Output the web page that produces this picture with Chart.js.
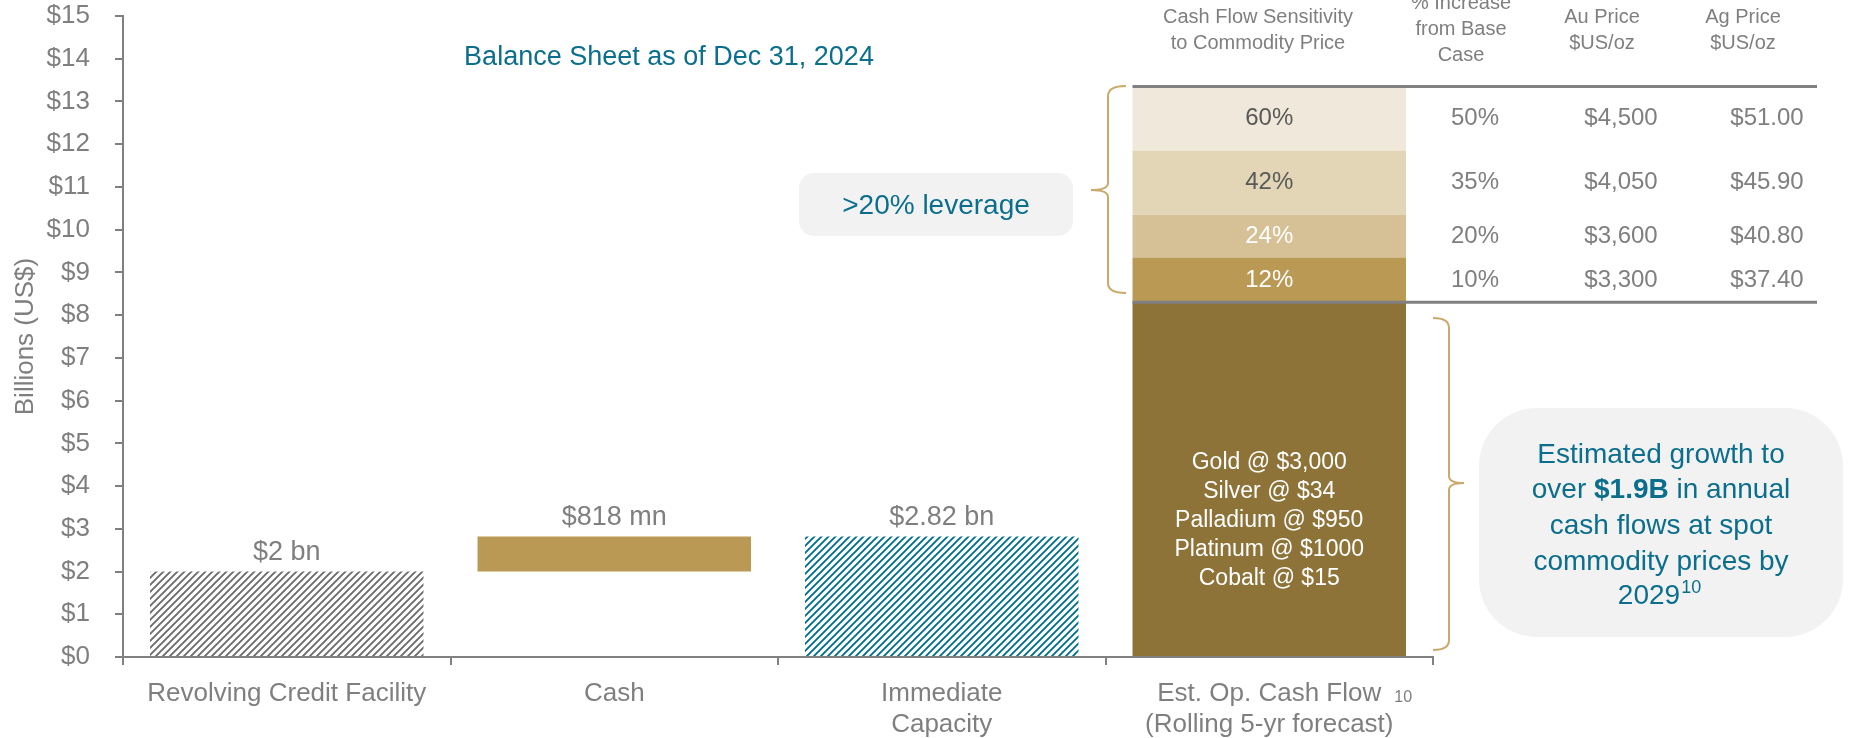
<!DOCTYPE html>
<html>
<head>
<meta charset="utf-8">
<title>Balance Sheet and Cash Flow Sensitivity</title>
<script src="https://cdn.jsdelivr.net/npm/chart.js@4.4.1/dist/chart.umd.min.js"></script>
<style>
  body { margin: 0; background: #fff; }
  #chart { display: block; }
</style>
</head>
<body>
<canvas id="chart" width="1852" height="738"></canvas>
<script>
// dados do grafico
const categories = [["Revolving Credit Facility"], ["Cash"], ["Immediate", "Capacity"], ["Est. Op. Cash Flow", "(Rolling 5-yr forecast)"]];
const creditFacility = [2, null, null, null];
const cashRange = [null, [2, 2.818], null, null];
const immediateCapacity = [null, null, 2.82, null];
const opCashFlow = [null, null, null, 8.3];
const barLabels = ["$2 bn", "$818 mn", "$2.82 bn"];
const yTicks = [0, 1, 2, 3, 4, 5, 6, 7, 8, 9, 10, 11, 12, 13, 14, 15];

// sensibilidade, de baixo para cima
const sensitivityLabels = ["12%", "24%", "42%", "60%"];
const sensitivityAdds = [1.05, 1.0, 1.5, 1.5];
const increaseFromBase = ["10%", "20%", "35%", "50%"];
const auPrice = ["$3,300", "$3,600", "$4,050", "$4,500"];
const agPrice = ["$37.40", "$40.80", "$45.90", "$51.00"];
const sensitivityColors = ["#b99953", "#d6c196", "#e3d6b7", "#f0e9db"];
const sensitivityTextColors = ["#ffffff", "#ffffff", "#595959", "#595959"];

const commodityLines = ["Gold @ $3,000", "Silver @ $34", "Palladium @ $950", "Platinum @ $1000", "Cobalt @ $15"];

const FONT = "'Liberation Sans', Arial, sans-serif";
const GRAY = "#7f7f7f";
const TEAL = "#0b6e8c";
const GOLD_LINE = "#c9a96c";

const canvas = document.getElementById("chart");
const ctx = canvas.getContext("2d");

function hatch(color) {
  const c = document.createElement("canvas");
  c.width = 7;
  c.height = 7;
  const g = c.getContext("2d");
  g.strokeStyle = color;
  g.lineWidth = 1.9;
  g.beginPath();
  g.moveTo(0, 7); g.lineTo(7, 0);
  g.moveTo(-1, 1); g.lineTo(1, -1);
  g.moveTo(6, 8); g.lineTo(8, 6);
  g.stroke();
  return ctx.createPattern(c, "repeat");
}

function roundBox(x, y, w, h, r, fill) {
  ctx.beginPath();
  ctx.moveTo(x + r, y);
  ctx.arcTo(x + w, y, x + w, y + h, r);
  ctx.arcTo(x + w, y + h, x, y + h, r);
  ctx.arcTo(x, y + h, x, y, r);
  ctx.arcTo(x, y, x + w, y, r);
  ctx.closePath();
  ctx.fillStyle = fill;
  ctx.fill();
}

function text(str, x, y, size, color, align, weight) {
  ctx.font = (weight || "normal") + " " + size + "px " + FONT;
  ctx.fillStyle = color;
  ctx.textAlign = align || "center";
  ctx.textBaseline = "middle";
  ctx.fillText(str, x, y);
}

// segmentos empilhados acima do fluxo de caixa
let lo = opCashFlow[3];
const segmentDatasets = sensitivityAdds.map((add, i) => {
  const range = [lo, +(lo + add).toFixed(2)];
  lo = range[1];
  const data = [null, null, null, range];
  return { label: sensitivityLabels[i], data: data, backgroundColor: sensitivityColors[i] };
});

const barOpts = { grouped: false, barPercentage: 0.835, categoryPercentage: 1.0, borderWidth: 0 };

// anotacoes, tabela e chaves
const extras = {
  id: "extras",
  afterDatasetsDraw(chart) {
    const xs = chart.scales.x;
    ctx.save();

    // rotulos em cima das barras
    [0, 1, 2].forEach((d, i) => {
      const el = chart.getDatasetMeta(d).data[i];
      text(barLabels[i], el.x, el.y - 19, 27, GRAY);
    });

    // texto dentro da barra grande
    const base = chart.getDatasetMeta(3).data[3];
    commodityLines.forEach((line, i) => {
      text(line, base.x, 463 + i * 29, 23, "#ffffff");
    });

    // tabela de sensibilidade
    const segs = segmentDatasets.map((ds, i) => chart.getDatasetMeta(4 + i).data[3]);
    segs.forEach((el, i) => {
      const yc = (el.y + el.base) / 2;
      text(sensitivityLabels[i], el.x, yc, 24, sensitivityTextColors[i]);
      text(increaseFromBase[i], 1475, yc, 24, GRAY);
      text(auPrice[i], 1621, yc, 24, GRAY);
      text(agPrice[i], 1767, yc, 24, GRAY);
    });
    const left = base.x - base.width / 2;
    ctx.strokeStyle = "#808080";
    ctx.lineWidth = 3;
    ctx.beginPath();
    ctx.moveTo(left, segs[3].y);
    ctx.lineTo(1817, segs[3].y);
    ctx.moveTo(left, base.y);
    ctx.lineTo(1817, base.y);
    ctx.stroke();

    // cabecalhos
    text("Cash Flow Sensitivity", 1258, 17, 20, GRAY);
    text("to Commodity Price", 1258, 43, 20, GRAY);
    text("% Increase", 1461, 3, 20, GRAY);
    text("from Base", 1461, 29, 20, GRAY);
    text("Case", 1461, 55, 20, GRAY);
    text("Au Price", 1602, 17, 20, GRAY);
    text("$US/oz", 1602, 43, 20, GRAY);
    text("Ag Price", 1743, 17, 20, GRAY);
    text("$US/oz", 1743, 43, 20, GRAY);

    // titulo
    text("Balance Sheet as of Dec 31, 2024", 669, 58, 27, TEAL);

    // caixas
    roundBox(799, 173, 274, 63, 15, "#f2f2f2");
    text(">20% leverage", 936, 206, 28, TEAL);

    roundBox(1479, 408, 364, 229, 58, "#f2f2f2");
    const cx = 1661;
    text("Estimated growth to", cx, 455, 28, TEAL);
    ctx.font = "normal 28px " + FONT;
    const w1 = ctx.measureText("over ").width;
    const w3 = ctx.measureText(" in annual").width;
    ctx.font = "bold 28px " + FONT;
    const w2 = ctx.measureText("$1.9B").width;
    let sx = cx - (w1 + w2 + w3) / 2;
    text("over ", sx, 490, 28, TEAL, "left");
    text("$1.9B", sx + w1, 490, 28, TEAL, "left", "bold");
    text(" in annual", sx + w1 + w2, 490, 28, TEAL, "left");
    text("cash flows at spot", cx, 526, 28, TEAL);
    text("commodity prices by", cx, 562, 28, TEAL);
    ctx.font = "normal 28px " + FONT;
    const wy = ctx.measureText("2029").width;
    sx = cx - (wy + 24) / 2;
    text("2029", sx, 596, 28, TEAL, "left");
    text("10", sx + wy + 1, 588, 18, TEAL, "left");

    // nota no rotulo do eixo
    ctx.font = "normal 26px " + FONT;
    const wl = ctx.measureText("Est. Op. Cash Flow").width;
    text("10", xs.getPixelForValue(3) + wl / 2 + 22, 698, 16, GRAY);

    // chaves
    ctx.strokeStyle = GOLD_LINE;
    ctx.lineWidth = 2;
    ctx.beginPath();
    ctx.moveTo(1126, 86);
    ctx.quadraticCurveTo(1108, 86, 1108, 96);
    ctx.lineTo(1108, 183);
    ctx.quadraticCurveTo(1108, 190, 1091, 190);
    ctx.quadraticCurveTo(1108, 190, 1108, 197);
    ctx.lineTo(1108, 283);
    ctx.quadraticCurveTo(1108, 293, 1126, 293);
    ctx.stroke();

    ctx.beginPath();
    ctx.moveTo(1433, 318);
    ctx.quadraticCurveTo(1449, 318, 1449, 328);
    ctx.lineTo(1449, 476);
    ctx.quadraticCurveTo(1449, 483, 1464, 483);
    ctx.quadraticCurveTo(1449, 483, 1449, 490);
    ctx.lineTo(1449, 640);
    ctx.quadraticCurveTo(1449, 650, 1433, 650);
    ctx.stroke();

    ctx.restore();
  }
};

const chart = new Chart(ctx, {
  type: "bar",
  data: {
    labels: categories,
    datasets: [
      Object.assign({ label: "Revolving Credit Facility", data: creditFacility, backgroundColor: hatch("#6b6b6b") }, barOpts),
      Object.assign({ label: "Cash", data: cashRange, backgroundColor: "#b99953" }, barOpts),
      Object.assign({ label: "Immediate Capacity", data: immediateCapacity, backgroundColor: hatch("#006f8a") }, barOpts),
      Object.assign({ label: "Est. Op. Cash Flow", data: opCashFlow, backgroundColor: "#8e7339" }, barOpts)
    ].concat(segmentDatasets.map(ds => Object.assign(ds, barOpts)))
  },
  options: {
    responsive: false,
    animation: false,
    devicePixelRatio: 1,
    layout: { padding: { top: 16, right: 419, left: 0, bottom: 0 } },
    plugins: {
      legend: { display: false },
      tooltip: { enabled: false }
    },
    scales: {
      x: {
        afterFit(scale) { scale.height = 81; },
        grid: { drawOnChartArea: false, drawTicks: true, tickLength: 8, color: "#808080", lineWidth: 2, offset: true },
        border: { display: true, color: "#808080", width: 2 },
        ticks: { color: GRAY, padding: 13, font: { family: FONT, size: 26, lineHeight: 1.2 }, maxRotation: 0, autoSkip: false }
      },
      y: {
        min: 0,
        max: 15,
        afterFit(scale) {
          scale.width = 123;
          scale.paddingTop = 0;
          scale.paddingBottom = 0;
        },
        afterBuildTicks(scale) { scale.ticks = yTicks.map(v => ({ value: v })); },
        grid: { drawOnChartArea: false, drawTicks: true, tickLength: 8, color: "#808080", lineWidth: 2 },
        border: { display: true, color: "#808080", width: 2 },
        ticks: { color: GRAY, padding: 25, font: { family: FONT, size: 26 }, callback: v => "$" + v },
        title: { display: true, text: "Billions (US$)", color: GRAY, font: { family: FONT, size: 26 }, padding: { top: 10, bottom: 0 } }
      }
    }
  },
  plugins: [extras]
});
</script>
</body>
</html>
